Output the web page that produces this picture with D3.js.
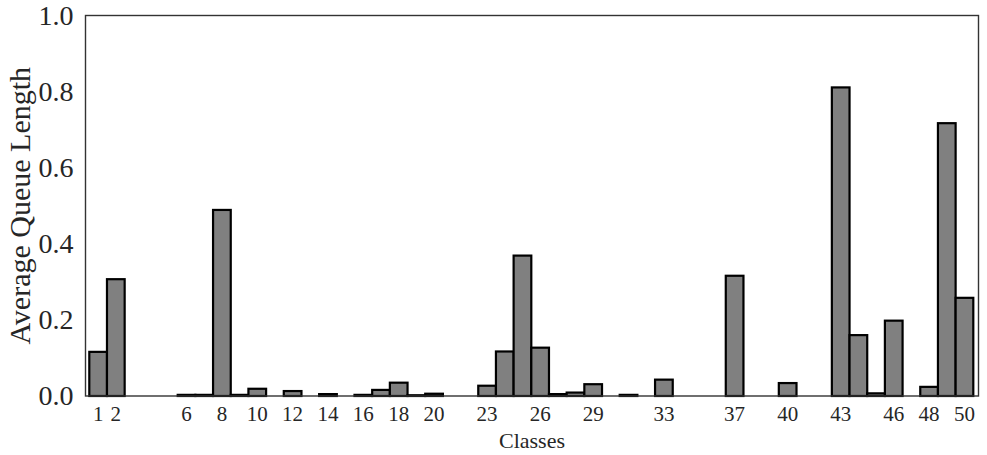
<!DOCTYPE html>
<html>
<head>
<meta charset="utf-8">
<script src="https://cdn.jsdelivr.net/npm/d3@7"></script>
<style>
  html, body { margin: 0; padding: 0; background: #fff; }
  svg { display: block; }
</style>
</head>
<body>
<svg id="chart" width="987" height="455"></svg>
<script>
const classes = [1,2,3,4,5,6,7,8,9,10,11,12,13,14,15,16,17,18,19,20,21,22,23,24,25,26,27,28,29,30,31,32,33,34,35,36,37,38,39,40,41,42,43,44,45,46,47,48,49,50];
const values = [0.116,0.307,0,0,0,0.003,0.003,0.489,0.003,0.019,0,0.013,0,0.005,0,0.003,0.016,0.035,0.002,0.006,0,0,0.027,0.117,0.369,0.127,0.005,0.009,0.031,0,0.003,0,0.043,0,0,0,0.316,0,0,0.034,0,0,0.811,0.160,0.007,0.198,0,0.024,0.717,0.258];
const xTickLabels = [1,2,6,8,10,12,14,16,18,20,23,26,29,33,37,40,43,46,48,50];
const yTickValues = [0.0,0.2,0.4,0.6,0.8,1.0];

const svg = d3.select("#chart");
const frame = {left: 85.5, right: 978.5, top: 15.5, bottom: 396};

const x = d3.scaleBand().domain(classes).range([89.3, 973.3]).padding(0);
const y = d3.scaleLinear().domain([0, 1]).range([frame.bottom, frame.top]);

const data = classes.map((c, i) => ({c, v: values[i]}));

svg.append("g").selectAll("rect").data(data).enter().append("rect")
  .attr("x", d => x(d.c))
  .attr("y", d => y(d.v))
  .attr("width", x.bandwidth())
  .attr("height", d => y(0) - y(d.v))
  .attr("fill", "#808080")
  .attr("stroke", "#000")
  .attr("stroke-width", 2.2);

// frame
svg.append("rect")
  .attr("x", frame.left).attr("y", frame.top)
  .attr("width", frame.right - frame.left)
  .attr("height", frame.bottom - frame.top)
  .attr("fill", "none").attr("stroke", "#333").attr("stroke-width", 1.4);

const font = "'Liberation Serif', 'Times New Roman', serif";

const xAxis = svg.append("g")
  .attr("transform", `translate(0,${frame.bottom})`)
  .call(d3.axisBottom(x).tickValues(xTickLabels).tickSize(0).tickPadding(10));
xAxis.select(".domain").remove();
xAxis.selectAll("text").attr("font-family", font).attr("font-size", 21).attr("fill", "#262626").attr("dy", "0.71em");

const yAxis = svg.append("g")
  .attr("transform", `translate(${frame.left},0)`)
  .call(d3.axisLeft(y).tickValues(yTickValues).tickFormat(d3.format(".1f")).tickSize(0).tickPadding(12));
yAxis.select(".domain").remove();
yAxis.selectAll("text").attr("font-family", font).attr("font-size", 28).attr("fill", "#262626");

svg.append("text")
  .attr("x", (frame.left + frame.right) / 2)
  .attr("y", 448)
  .attr("text-anchor", "middle")
  .attr("font-family", font).attr("font-size", 22).attr("fill", "#262626")
  .text("Classes");

svg.append("text")
  .attr("transform", `translate(30,${(frame.top + frame.bottom) / 2}) rotate(-90)`)
  .attr("text-anchor", "middle")
  .attr("font-family", font).attr("font-size", 30).attr("fill", "#262626")
  .text("Average Queue Length");
</script>
</body>
</html>
